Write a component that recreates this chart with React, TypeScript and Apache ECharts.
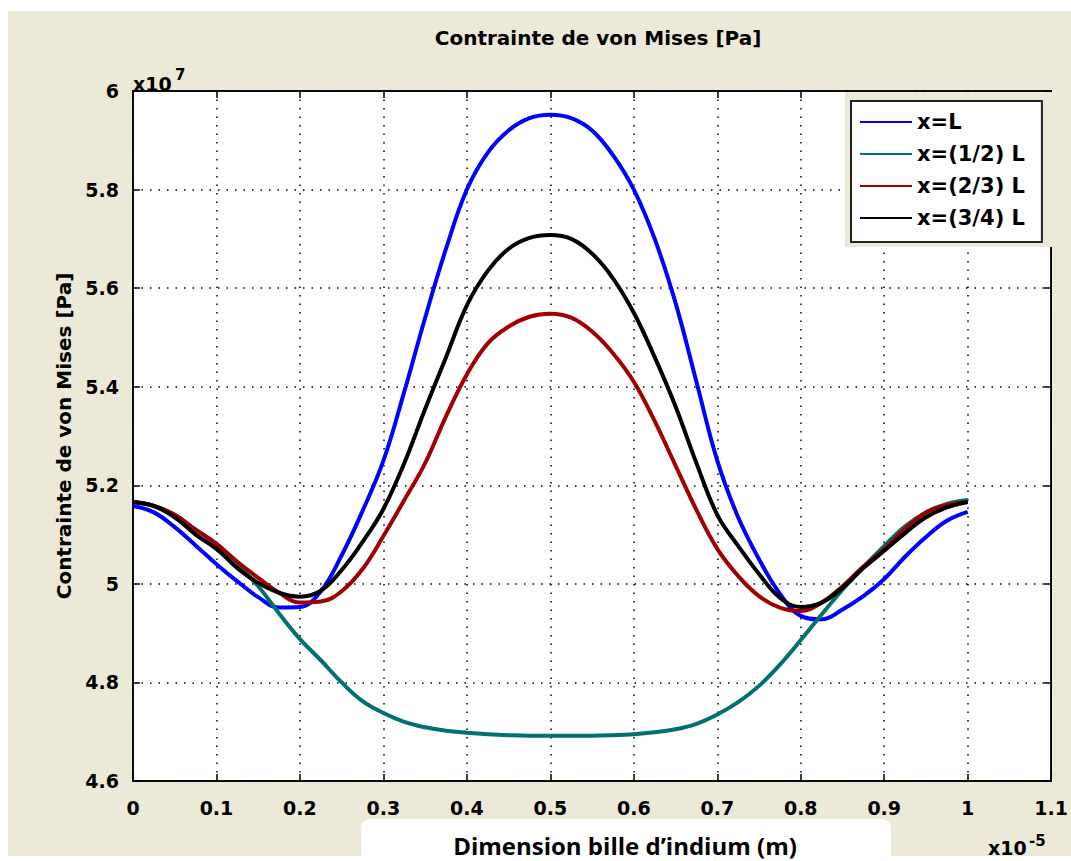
import React, { useEffect, useRef } from "react";
import * as echarts from "echarts";

// x positions (×1e-5 m)
const xPositions = [0, 0.025, 0.05, 0.075, 0.1, 0.125, 0.15, 0.175, 0.2, 0.225, 0.25, 0.275, 0.3, 0.325, 0.35, 0.375, 0.4, 0.425, 0.45, 0.475, 0.5, 0.525, 0.55, 0.575, 0.6, 0.625, 0.65, 0.675, 0.7, 0.725, 0.75, 0.775, 0.8, 0.825, 0.85, 0.875, 0.9, 0.925, 0.95, 0.975, 1];

// von Mises stress (×1e7 Pa)
const seriesL = [5.158, 5.145, 5.115, 5.078, 5.040, 5.005, 4.973, 4.952, 4.953, 4.985, 5.058, 5.148, 5.250, 5.390, 5.540, 5.680, 5.800, 5.875, 5.920, 5.945, 5.952, 5.945, 5.920, 5.870, 5.800, 5.700, 5.570, 5.410, 5.250, 5.135, 5.050, 4.980, 4.935, 4.928, 4.948, 4.975, 5.010, 5.055, 5.095, 5.128, 5.146];
const seriesHalf = [5.166, 5.158, 5.140, 5.110, 5.081, 5.040, 4.995, 4.940, 4.888, 4.845, 4.800, 4.762, 4.738, 4.720, 4.709, 4.702, 4.698, 4.695, 4.693, 4.692, 4.692, 4.692, 4.692, 4.693, 4.695, 4.699, 4.705, 4.716, 4.735, 4.760, 4.793, 4.836, 4.886, 4.938, 4.988, 5.034, 5.077, 5.117, 5.145, 5.162, 5.170];
const seriesTwoThirds = [5.166, 5.158, 5.140, 5.110, 5.081, 5.045, 5.012, 4.982, 4.962, 4.964, 4.985, 5.030, 5.097, 5.170, 5.245, 5.340, 5.425, 5.488, 5.522, 5.542, 5.548, 5.540, 5.512, 5.468, 5.410, 5.330, 5.240, 5.150, 5.071, 5.016, 4.975, 4.952, 4.945, 4.962, 4.995, 5.035, 5.071, 5.112, 5.145, 5.160, 5.166];
const seriesThreeQuarters = [5.166, 5.158, 5.135, 5.100, 5.071, 5.032, 5.002, 4.982, 4.974, 4.986, 5.028, 5.085, 5.152, 5.245, 5.355, 5.460, 5.565, 5.635, 5.680, 5.702, 5.708, 5.700, 5.670, 5.620, 5.550, 5.460, 5.360, 5.245, 5.140, 5.077, 5.020, 4.972, 4.953, 4.962, 4.992, 5.032, 5.067, 5.103, 5.135, 5.155, 5.166];

const seriesNames = ["x=L", "x=(1/2) L", "x=(2/3) L", "x=(3/4) L"];
const seriesColors = ["#0000ff", "#007070", "#a00000", "#000000"];

const title = "Contrainte de von Mises [Pa]";
const yTitle = "Contrainte de von Mises [Pa]";
const xTitle = "Dimension bille d\u2019indium (m)";

const FONT = "DejaVu Sans";
const BEIGE = "#ece9d8";

export default function App() {
  const ref = useRef<HTMLDivElement>(null);
  useEffect(() => {
    if (!ref.current) return;
    const chart = echarts.init(ref.current, null, { renderer: "svg" });
    const values = [seriesL, seriesHalf, seriesTwoThirds, seriesThreeQuarters];
    const fmt = (v: number) => String(parseFloat(v.toFixed(2)));
    const tickCommon = { show: true, inside: true, length: 7, lineStyle: { color: "#000", width: 1.5 } };
    const dotted = { show: true, lineStyle: { type: [1.5, 7], color: "#000", width: 1.5 } };
    chart.setOption({
      animation: false,
      backgroundColor: "#ffffff",
      title: {
        text: title,
        left: 593,
        top: 23,
        textAlign: "center",
        textStyle: { fontFamily: FONT, fontWeight: "bold", fontSize: 20, color: "#000" },
      },
      grid: {
        left: 133,
        top: 91,
        right: 17,
        bottom: 80,
        show: true,
        backgroundColor: "#ffffff",
        borderColor: "#000",
        borderWidth: 1.5,
      },
      legend: {
        orient: "vertical",
        left: 851,
        top: 101,
        z: 10,
        padding: [10, 17, 13, 9],
        backgroundColor: "#ffffff",
        borderColor: "#222",
        borderWidth: 2,
        icon: "rect",
        itemWidth: 52,
        itemHeight: 2,
        itemGap: 10,
        textStyle: { fontFamily: FONT, fontWeight: "bold", fontSize: 21, color: "#000", lineHeight: 22 },
        data: seriesNames,
      },
      graphic: [
        { type: "rect", z: -10, silent: true, shape: { x: 8, y: 11, width: 1063, height: 845 }, style: { fill: BEIGE } },
        { type: "rect", z: 5, silent: true, shape: { x: 845, y: 92, width: 207, height: 155 }, style: { fill: BEIGE } },
        { type: "rect", z: 5, silent: true, shape: { x: 361, y: 819, width: 530, height: 60, r: 9 }, style: { fill: "#ffffff" } },
        { type: "text", z: 6, silent: true, x: 133, y: 93, style: { text: "x10", fontFamily: FONT, fontWeight: "bold", fontSize: 19, fill: "#000", textVerticalAlign: "bottom" } },
        { type: "text", z: 6, silent: true, x: 175, y: 82, style: { text: "7", fontFamily: FONT, fontWeight: "bold", fontSize: 15, fill: "#000", textVerticalAlign: "bottom" } },
        { type: "text", z: 6, silent: true, x: 988, y: 857, style: { text: "x10", fontFamily: FONT, fontWeight: "bold", fontSize: 19, fill: "#000", textVerticalAlign: "bottom" } },
        { type: "text", z: 6, silent: true, x: 1029, y: 848, style: { text: "-5", fontFamily: FONT, fontWeight: "bold", fontSize: 15, fill: "#000", textVerticalAlign: "bottom" } },
        { type: "text", z: 6, silent: true, x: 625, y: 845, style: { text: xTitle, fontFamily: "Open Sans", fontWeight: "bold", fontSize: 24, fill: "#000", textAlign: "center", textVerticalAlign: "middle" } },
      ],
      xAxis: [
        {
          type: "value",
          min: 0,
          max: 1.1,
          interval: 0.1,
          position: "bottom",
          z: 1,
          axisLine: { show: true, onZero: false, lineStyle: { color: "#000", width: 1.5 } },
          axisTick: tickCommon,
          axisLabel: { fontFamily: FONT, fontWeight: "bold", fontSize: 19, color: "#000", margin: 17, formatter: fmt },
          splitLine: dotted,
        },
        {
          type: "value",
          min: 0,
          max: 1.1,
          interval: 0.1,
          position: "top",
          z: 1,
          axisLine: { show: true, onZero: false, lineStyle: { color: "#000", width: 1.5 } },
          axisTick: tickCommon,
          axisLabel: { show: false },
          splitLine: { show: false },
        },
      ],
      yAxis: [
        {
          type: "value",
          min: 4.6,
          max: 6,
          interval: 0.2,
          position: "left",
          z: 1,
          name: yTitle,
          nameLocation: "middle",
          nameGap: 50,
          nameTextStyle: { fontFamily: FONT, fontWeight: "bold", fontSize: 20, color: "#000" },
          axisLine: { show: true, onZero: false, lineStyle: { color: "#000", width: 1.5 } },
          axisTick: tickCommon,
          axisLabel: { fontFamily: FONT, fontWeight: "bold", fontSize: 19, color: "#000", margin: 14, formatter: fmt },
          splitLine: dotted,
        },
        {
          type: "value",
          min: 4.6,
          max: 6,
          interval: 0.2,
          position: "right",
          z: 1,
          axisLine: { show: true, onZero: false, lineStyle: { color: "#000", width: 1.5 } },
          axisTick: tickCommon,
          axisLabel: { show: false },
          splitLine: { show: false },
        },
      ],
      series: values.map((vals, i) => ({
        name: seriesNames[i],
        type: "line",
        xAxisIndex: 0,
        yAxisIndex: 0,
        data: xPositions.map((x, j) => [x, vals[j]]),
        showSymbol: false,
        symbol: "none",
        smooth: 0.4,
        z: 2 + i,
        color: seriesColors[i],
        lineStyle: { color: seriesColors[i], width: 4 },
      })),
    });
    return () => chart.dispose();
  }, []);
  return <div ref={ref} style={{ position: "absolute", left: 0, top: 0, width: 1071, height: 861 }} />;
}
